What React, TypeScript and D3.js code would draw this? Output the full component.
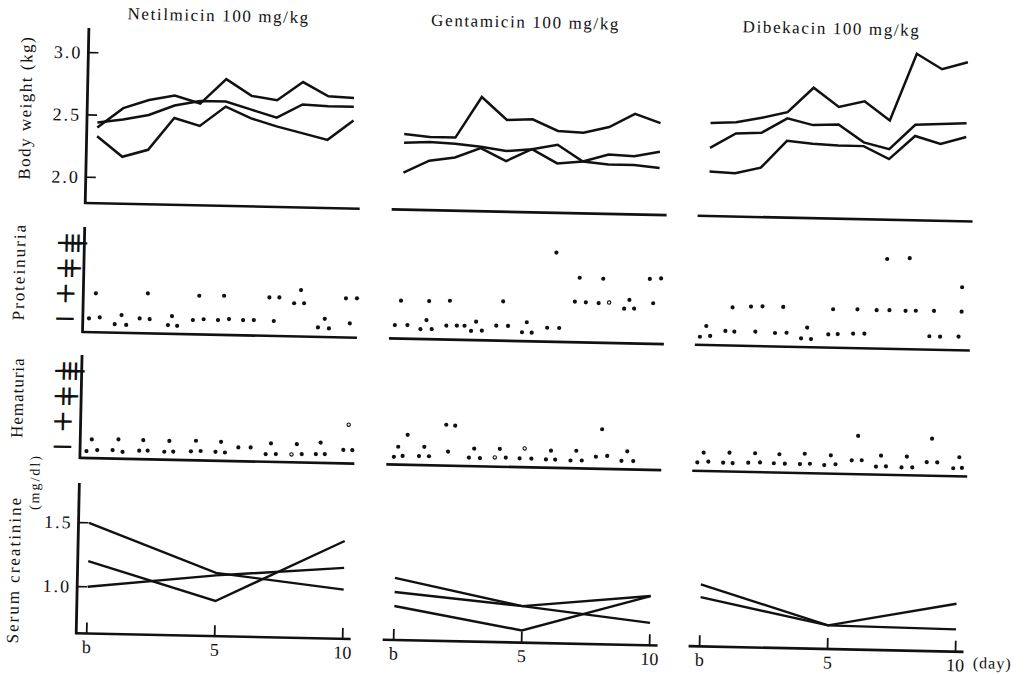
import React from "react";
import * as d3 from "d3";

// drugs (one column each)
const drugs = ["Netilmicin 100 mg/kg", "Gentamicin 100 mg/kg", "Dibekacin 100 mg/kg"];
const days = [0, 1, 2, 3, 4, 5, 6, 7, 8, 9, 10];
const crDays = [0, 5, 10];
const dayTicks = ["b", "5", "10"];
const bwTicks = [2.0, 2.5, 3.0];
const crTicks = [1.0, 1.5];
const gradeLabels = ["−", "+", "++", "+++"];

// body weight (kg), 3 rabbits per drug
const bwNetil = [
  [2.40, 2.56, 2.63, 2.67, 2.61, 2.81, 2.68, 2.65, 2.80, 2.69, 2.68],
  [2.44, 2.47, 2.51, 2.59, 2.63, 2.63, 2.57, 2.51, 2.62, 2.61, 2.61],
  [2.33, 2.17, 2.23, 2.49, 2.43, 2.59, 2.50, 2.44, 2.39, 2.34, 2.50],
];
const bwGenta = [
  [2.40, 2.38, 2.38, 2.71, 2.53, 2.54, 2.45, 2.44, 2.49, 2.60, 2.53],
  [2.33, 2.34, 2.33, 2.31, 2.28, 2.30, 2.34, 2.21, 2.19, 2.19, 2.17],
  [2.09, 2.19, 2.22, 2.30, 2.20, 2.30, 2.19, 2.21, 2.27, 2.26, 2.30],
];
const bwDibek = [
  [2.54, 2.55, 2.59, 2.64, 2.84, 2.69, 2.74, 2.59, 3.13, 3.01, 3.07],
  [2.34, 2.46, 2.47, 2.59, 2.54, 2.55, 2.41, 2.36, 2.56, 2.57, 2.58],
  [2.15, 2.14, 2.19, 2.41, 2.39, 2.38, 2.38, 2.28, 2.47, 2.41, 2.47],
];

// serum creatinine (mg/dl) at b, 5, 10
const crNetil = [[1.50, 1.13, 1.02], [1.20, 0.91, 1.40], [1.00, 1.11, 1.19]];
const crGenta = [[1.12, 0.92, 0.81], [1.01, 0.92, 1.02], [0.90, 0.73, 1.02]];
const crDibek = [[1.12, 0.82, 1.01], [1.02, 0.82, 0.81]];

// proteinuria dots: [day, grade, hollow?]  grade 0 = "−", 1 = "+", ...
const protNetil = [
  [-0.17, 0], [0.25, 0.05], [0.08, 1.0], [0.84, -0.21], [1.29, -0.23], [1.1, 0.16],
  [1.81, 0.04], [2.2, 0.02], [2.11, 1.04], [2.92, -0.2], [3.28, -0.22], [3.07, 0.16],
  [3.89, 0.02], [4.31, 0.06], [4.12, 0.99], [4.87, 0.04], [5.3, 0.09], [5.09, 1.01],
  [5.85, 0.06], [6.27, 0.07], [6.86, 0.98], [7.25, 0.99], [7.05, 0.05],
  [7.83, 0.77], [8.22, 0.78], [8.09, 1.3], [8.78, -0.17], [9.21, -0.2], [9.04, 0.18],
  [9.85, 1.01], [10.28, 1.02], [10.02, 0.02],
];
const protGenta = [
  [-0.21, -0.01], [0.28, 0.0], [0.01, 0.96], [0.79, -0.15], [1.23, -0.14], [1.02, 0.21], [1.11, 0.97],
  [1.8, 0.01], [2.21, 0.02], [1.92, 1.0], [2.51, 0.02], [2.77, -0.18], [2.96, 0.19], [3.19, -0.16],
  [3.75, 0.05], [4.21, 0.05], [4.0, 1.02], [4.76, -0.19], [4.94, 0.21], [5.14, -0.2],
  [5.74, 0.01], [6.21, 0.01], [6.04, 3.0], [6.8, 1.07], [7.23, 1.05], [6.97, 2.02],
  [7.73, 1.03], [8.14, 1.06, 1], [7.89, 2.0], [8.73, 0.83], [9.12, 0.84], [8.93, 1.18],
  [9.71, 2.03], [10.15, 2.06], [9.86, 1.07],
];
const protDibek = [
  [-0.24, -0.22], [0.0, 0.21], [0.16, -0.18], [0.75, 0.03], [1.01, 0.97], [1.1, 0.01],
  [1.73, 1.02], [1.92, 0.03], [2.18, 1.04], [2.69, -0.01], [2.99, 1.03], [3.14, 0.01],
  [3.71, -0.2], [3.94, 0.23], [4.1, -0.22], [4.77, -0.02], [4.94, 0.98], [5.14, 0.0],
  [5.74, 0.03], [5.89, 1.0], [6.18, 0.04], [6.64, 0.98], [7.01, 3.02], [7.14, 0.99],
  [7.77, 0.98], [7.89, 3.07], [8.17, 0.99], [8.72, -0.01], [8.88, 1.0], [9.14, -0.02],
  [9.86, 0.0], [9.96, 1.96], [9.96, 0.99],
];

// hematuria dots
const hemaNetil = [
  [-0.16, -0.18], [0.04, 0.29], [0.26, -0.13], [0.86, -0.12], [1.08, 0.31], [1.25, -0.18],
  [1.9, -0.12], [2.05, 0.3], [2.23, -0.11], [2.88, -0.14], [3.07, 0.29], [3.23, -0.13],
  [3.92, -0.1], [4.11, 0.32], [4.3, -0.08], [4.88, -0.1], [5.09, 0.3], [5.25, -0.12],
  [5.77, 0.09], [6.25, 0.1], [6.84, -0.15], [7.04, 0.28], [7.24, -0.14],
  [7.85, -0.14, 1], [8.05, 0.27], [8.25, -0.12], [8.8, -0.11], [8.98, 0.35], [9.15, -0.1],
  [9.87, 0.08], [10.06, 1.08, 1], [10.22, 0.08],
];
const hemaGenta = [
  [-0.14, -0.15], [0.02, 0.25], [0.2, -0.11], [0.38, 0.73], [0.84, -0.1], [1.04, 0.27], [1.23, -0.1],
  [1.88, 1.16], [2.23, 1.13], [1.97, 0.1], [2.79, -0.12], [2.99, 0.24], [3.22, -0.13],
  [3.8, -0.09, 1], [3.99, 0.25], [4.23, -0.09], [4.77, -0.11], [4.96, 0.29, 1], [5.23, -0.11],
  [5.8, -0.13], [5.99, 0.22], [6.16, -0.13], [6.76, -0.15], [6.98, 0.24], [7.2, -0.14],
  [7.75, 0.02], [7.97, 1.11], [8.19, 0.06], [8.75, -0.12], [8.97, 0.26], [9.21, -0.12],
];
const hemaDibek = [
  [-0.24, -0.12], [0.0, 0.27], [0.19, -0.08], [0.77, -0.11], [1.01, 0.29], [1.14, -0.12],
  [1.75, -0.09], [2.01, 0.29], [2.21, -0.07], [2.75, -0.09], [2.96, 0.27], [3.18, -0.1],
  [3.77, -0.1], [3.95, 0.31], [4.16, -0.08], [4.72, -0.12], [4.97, 0.27], [5.16, -0.08],
  [5.79, 0.09], [6.02, 1.06], [6.18, 0.1], [6.74, -0.14], [6.93, 0.3], [7.13, -0.12],
  [7.74, -0.15], [7.94, 0.28], [8.16, -0.14], [8.72, 0.08], [8.91, 1.01], [9.13, 0.08],
  [9.76, -0.14], [9.99, 0.3], [10.1, -0.12],
];

const bwAll = [bwNetil, bwGenta, bwDibek];
const crAll = [crNetil, crGenta, crDibek];
const protAll = [protNetil, protGenta, protDibek];
const hemaAll = [hemaNetil, hemaGenta, hemaDibek];

const W = 1029;
const H = 675;
const tilt = 1.2; // the scan is slightly rotated
const panelX0 = [93, 400, 706];
const dayW = 256;
const axisX = 82.5;
const serif = "'Liberation Serif', 'Times New Roman', serif";

// vertical bands
const bwY = d3.scaleLinear().domain([2.0, 3.0]).range([186.2, 61.6]);
const bwBase = 212, bwTop = 37;
const protY = d3.scaleLinear().domain([0, 3]).range([327.3, 251.7]);
const protBase = 341, protTop = 236;
const hemaY = d3.scaleLinear().domain([0, 3]).range([455.5, 379.6]);
const hemaBase = 467, hemaTop = 364;
const crY = d3.scaleLinear().domain([1.0, 1.5]).range([595.7, 531.7]);
const crBase = 642.4, crTop = 492;

const stroke = "#111";

function GradeLabels({ y }: { y: d3.ScaleLinear<number, number> }) {
  return (
    <g>
      {gradeLabels.map((g, i) => (
        <text key={i} x={53} y={y(i)} fontFamily="'DejaVu Sans'" fontSize={28}
          letterSpacing={-17.5} dominantBaseline="central" fill={stroke}>{g}</text>
      ))}
    </g>
  );
}

export default function App() {
  const bands = [bwBase, protBase, hemaBase, crBase];
  return (
    <svg width={W} height={H} style={{ position: "absolute", left: 0, top: 0 }} fontFamily={serif}>
      <rect width={W} height={H} fill="#fff" />
      <g transform={`rotate(${tilt} ${W / 2} ${H / 2})`}>
        {drugs.map((drug, p) => {
          const x = d3.scaleLinear().domain([0, 10]).range([panelX0[p], panelX0[p] + dayW]);
          const bwLine = d3.line<number>().x((_, i) => x(days[i])).y(d => bwY(d));
          const crLine = d3.line<number>().x((_, i) => x(crDays[i])).y(d => crY(d));
          return (
            <g key={drug}>
              <text x={(x(0) + x(10)) / 2 - 9} y={22} textAnchor="middle" dominantBaseline="central"
                fontSize={17} letterSpacing={1.6} fill={stroke}>{drug}</text>
              {bands.map((b, i) => (
                <line key={i} x1={x(0) - 11} x2={x(10) + 8} y1={b} y2={b} stroke={stroke} strokeWidth={2.6} />
              ))}
              {bwAll[p].map((s, i) => (
                <path key={i} d={bwLine(s) || ""} fill="none" stroke={stroke} strokeWidth={2.5} strokeLinejoin="miter" />
              ))}
              {protAll[p].map((d, i) => (
                <circle key={i} cx={x(d[0])} cy={protY(d[1])} r={d[2] ? 1.7 : 2.1}
                  fill={d[2] ? "#fff" : stroke} stroke={stroke} strokeWidth={d[2] ? 1.1 : 0} />
              ))}
              {hemaAll[p].map((d, i) => (
                <circle key={i} cx={x(d[0])} cy={hemaY(d[1])} r={d[2] ? 1.7 : 2.1}
                  fill={d[2] ? "#fff" : stroke} stroke={stroke} strokeWidth={d[2] ? 1.1 : 0} />
              ))}
              {crAll[p].map((s, i) => (
                <path key={i} d={crLine(s) || ""} fill="none" stroke={stroke} strokeWidth={2.4} />
              ))}
              {crDays.map((d, i) => (
                <g key={i}>
                  <line x1={x(d)} x2={x(d)} y1={crBase} y2={crBase - 11} stroke={stroke} strokeWidth={1.8} />
                  <text x={x(d)} y={656} textAnchor="middle" dominantBaseline="central" fontSize={18}
                    fill={stroke}>{dayTicks[i]}</text>
                </g>
              ))}
            </g>
          );
        })}

        {/* left axes of first column */}
        {[[bwTop, bwBase], [protTop, protBase], [hemaTop, hemaBase], [crTop, crBase]].map(([t, b], i) => (
          <line key={i} x1={axisX} x2={axisX} y1={t} y2={b + 1} stroke={stroke} strokeWidth={2.8} />
        ))}
        {bwTicks.map(t => (
          <g key={t}>
            <line x1={axisX} x2={axisX + 10} y1={bwY(t)} y2={bwY(t)} stroke={stroke} strokeWidth={1.6} />
            <text x={axisX - 6} y={bwY(t)} textAnchor="end" dominantBaseline="central" fontSize={18}
              letterSpacing={2} fill={stroke}>{t.toFixed(1)}</text>
          </g>
        ))}
        {crTicks.map(t => (
          <g key={t}>
            <line x1={axisX} x2={axisX + 10} y1={crY(t)} y2={crY(t)} stroke={stroke} strokeWidth={1.6} />
            <text x={axisX - 6} y={crY(t)} textAnchor="end" dominantBaseline="central" fontSize={18}
              letterSpacing={2} fill={stroke}>{t.toFixed(1)}</text>
          </g>
        ))}
        <GradeLabels y={protY} />
        <GradeLabels y={hemaY} />

        {/* axis titles */}
        <text transform="translate(21,118) rotate(-90)" textAnchor="middle" dominantBaseline="central"
          fontSize={17} letterSpacing={1.5} fill={stroke}>Body weight (kg)</text>
        <text transform="translate(18,282) rotate(-90)" textAnchor="middle" dominantBaseline="central"
          fontSize={17} letterSpacing={2} fill={stroke}>Proteinuria</text>
        <text transform="translate(19,408) rotate(-90)" textAnchor="middle" dominantBaseline="central"
          fontSize={17} letterSpacing={1} fill={stroke}>Hematuria</text>
        <text transform="translate(19,580) rotate(-90)" textAnchor="middle" dominantBaseline="central"
          fontSize={17} letterSpacing={2} fill={stroke}>Serum creatinine</text>
        <text transform="translate(38,492) rotate(-90)" textAnchor="middle" dominantBaseline="central"
          fontSize={14} letterSpacing={2} fill={stroke}>(mg/dl)</text>
        <text x={999} y={653} textAnchor="middle" dominantBaseline="central" fontSize={16}
          letterSpacing={1} fill={stroke}>(day)</text>
      </g>
    </svg>
  );
}
